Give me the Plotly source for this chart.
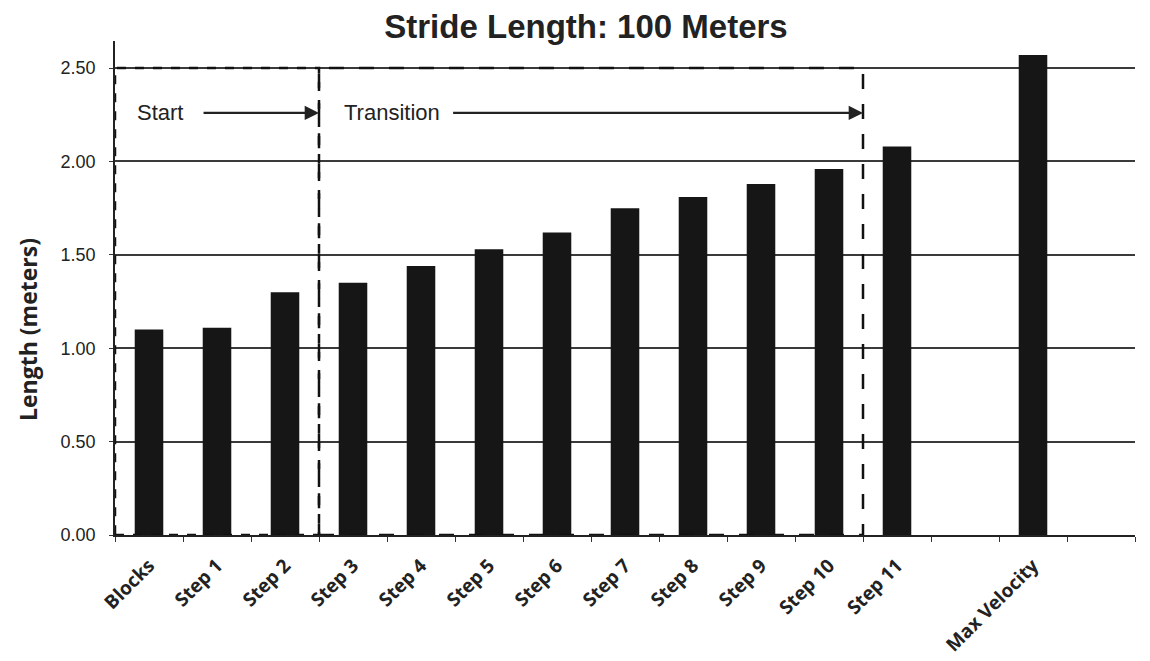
import plotly.graph_objects as go

categories = ["Blocks", "Step 1", "Step 2", "Step 3", "Step 4", "Step 5", "Step 6",
              "Step 7", "Step 8", "Step 9", "Step 10", "Step 11", " ", "Max Velocity", "  "]
lengths = [1.10, 1.11, 1.30, 1.35, 1.44, 1.53, 1.62, 1.75, 1.81, 1.88, 1.96, 2.08,
           None, 2.57, None]
y_ticks = [0, 0.5, 1.0, 1.5, 2.0, 2.5]
y_tick_labels = ["0.00", "0.50", "1.00", "1.50", "2.00", "2.50"]

# phases: (label, first category index, last category index)
phases = [("Start", 0, 2), ("Transition", 3, 10)]
phase_top = 2.5
arrow_level = 2.26

fig = go.Figure()
fig.add_trace(go.Bar(
    x=categories, y=lengths,
    marker=dict(color="#161616", line=dict(width=0)),
    width=0.42,
))

shapes = []
annotations = []
dash_styles = ["dash", "longdash"]
text_offsets = [0.3, 0.34]
arrow_offsets = [1.28, 1.95]
for i, (label, a, b) in enumerate(phases):
    x0, x1 = a - 0.5, b + 0.5
    shapes.append(dict(type="rect", xref="x", yref="y", x0=x0, x1=x1, y0=0, y1=phase_top,
                       line=dict(color="#111", width=2.5, dash=dash_styles[i]),
                       fillcolor="rgba(0,0,0,0)", layer="above"))
    annotations.append(dict(x=x0 + text_offsets[i], y=arrow_level, xref="x", yref="y",
                            text=label, showarrow=False, xanchor="left", yanchor="middle",
                            font=dict(family="Liberation Sans, Arial", size=22, color="#222")))
    annotations.append(dict(x=x1, y=arrow_level, ax=x0 + arrow_offsets[i], ay=arrow_level,
                            xref="x", yref="y", axref="x", ayref="y", text="",
                            showarrow=True, arrowhead=2, arrowsize=1.3, arrowwidth=2.2,
                            arrowcolor="#222"))

# y-axis title as annotation
annotations.append(dict(x=0, y=0.415, xref="paper", yref="paper", xshift=-87,
                        text="<b>Length (meters)</b>", showarrow=False, textangle=-90,
                        xanchor="center", yanchor="middle",
                        font=dict(family="Open Sans, Noto Sans", size=23, color="#222")))

fig.update_layout(
    width=1150, height=661,
    margin=dict(l=107, r=23, t=33, b=134),
    paper_bgcolor="white", plot_bgcolor="white",
    showlegend=False,
    title=dict(text="<b>Stride Length: 100 Meters</b>", x=578/1150, xref="container",
               xanchor="center", y=1 - 18/661, yanchor="middle",
               font=dict(family="Liberation Sans, Arial", size=33, color="#222")),
    shapes=shapes,
    annotations=annotations,
    bargap=0.58,
)
fig.update_xaxes(
    type="category", range=[-0.5, len(categories) - 0.5],
    tickangle=-45, tickson="boundaries", ticks="outside", ticklen=5, tickcolor="#333",
    showline=True, linecolor="#222", linewidth=2, showgrid=False,
    ticklabelstandoff=10,
    tickfont=dict(family="Open Sans, Noto Sans", size=19, color="#222", weight="bold"),
)
fig.update_yaxes(
    range=[0, 2.645], tickvals=y_ticks, ticktext=y_tick_labels,
    ticks="outside", ticklen=4, tickcolor="#333",
    showline=True, linecolor="#222", linewidth=1.5,
    showgrid=True, gridcolor="#3a3a3a", gridwidth=1.5, zeroline=False,
    ticklabelstandoff=10,
    tickfont=dict(family="Liberation Sans, Arial", size=18, color="#222"),
)

fig.write_html("out.html")
